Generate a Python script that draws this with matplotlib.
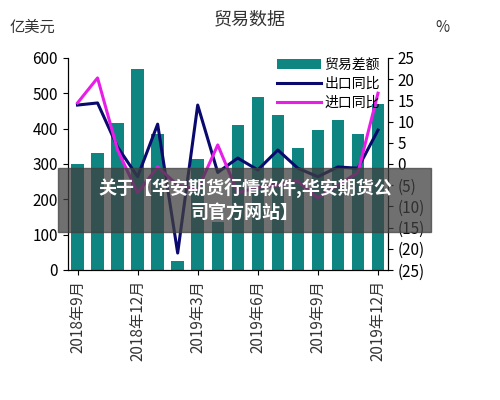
import matplotlib.pyplot as plt
import matplotlib.patches as mpatches
import numpy as np

plt.rcParams['font.family'] = ['Noto Sans CJK SC', 'DejaVu Sans']

months = ["2018年9月", "2018年10月", "2018年11月", "2018年12月", "2019年1月", "2019年2月",
          "2019年3月", "2019年4月", "2019年5月", "2019年6月", "2019年7月", "2019年8月",
          "2019年9月", "2019年10月", "2019年11月", "2019年12月"]
balance = [300, 330, 415, 570, 385, 25, 315, 135, 410, 490, 440, 345, 395, 425, 385, 470]
export_yoy = [13.9, 14.4, 4, -3, 9.4, -21, 13.9, -2, 1.4, -1.4, 3.3, -1, -3, -0.7, -1, 8]
import_yoy = [14.4, 20.3, 3.3, -6.8, -0.7, -5, -6, 4.5, -6.8, -5.5, -5, -4, -8, -5, -2, 16.7]
tick_idx = [0, 3, 6, 9, 12, 15]

fig, ax = plt.subplots(figsize=(5, 4), dpi=100)
fig.subplots_adjust(left=0.135, right=0.776, top=0.855, bottom=0.325)
x = np.arange(len(months))
b = ax.bar(x, balance, width=0.62, color="#0e8580", label="贸易差额")
ax.set_ylim(0, 600)
ax.set_xlim(-0.5, len(months) - 0.5)
ax.set_yticks(range(0, 601, 100))
ax.set_xticks([x[i] for i in tick_idx])
ax.set_xticklabels([months[i] for i in tick_idx], rotation=90, fontsize=10, color="#333")
ax.tick_params(labelsize=11)

ax2 = ax.twinx()
l1, = ax2.plot(x, export_yoy, color="#0a0a6e", lw=2.2, label="出口同比")
l2, = ax2.plot(x, import_yoy, color="#e81ee8", lw=2.2, label="进口同比")
ax2.set_ylim(-25, 25)
ax2.set_yticks(range(-25, 26, 5))
ax2.set_yticklabels([f"({-v})" if v < 0 else str(v) for v in range(-25, 26, 5)], fontsize=11)
for a in (ax, ax2):
    a.spines['top'].set_visible(False)
ax2.legend(handles=[b, l1, l2], loc="upper right", frameon=False, fontsize=10,
           bbox_to_anchor=(1.0, 1.04), handlelength=3.2, handletextpad=0.2,
           labelspacing=0.35, borderaxespad=0.2)

fig.text(0.5, 0.94, "贸易数据", ha="center", fontsize=13, color="#333")
fig.text(0.02, 0.92, "亿美元", fontsize=11, color="#333")
fig.text(0.87, 0.92, "%", fontsize=11, color="#333")

fig.patches.append(mpatches.Rectangle((0.116, 0.42), 0.745, 0.16, transform=fig.transFigure,
                                      color="#404040", alpha=0.75, zorder=5))
fig.text(0.49, 0.5, "关于【华安期货行情软件,华安期货公\n司官方网站】", ha="center", va="center",
         fontsize=13, color="white", fontweight="bold", linespacing=1.3, zorder=6)

fig.savefig("out.png")
